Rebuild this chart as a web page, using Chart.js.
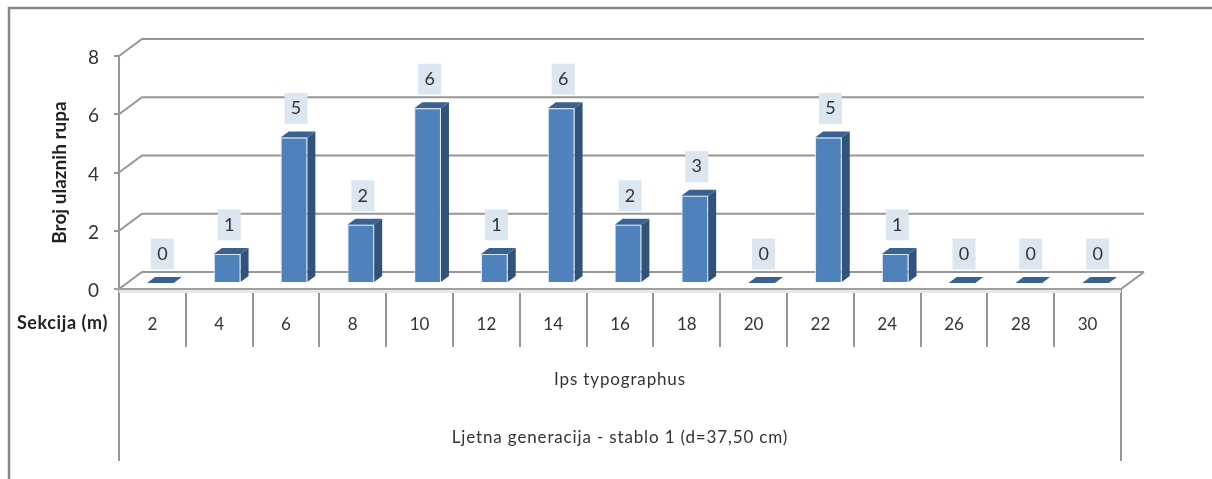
<!DOCTYPE html>
<html>
<head>
<meta charset="utf-8">
<title>Ljetna generacija - stablo 1</title>
<script src="https://cdn.jsdelivr.net/npm/chart.js@4"></script>
<style>
	html, body { margin: 0; padding: 0; background: #fff; overflow: hidden; }
	canvas { display: block; }
</style>
</head>
<body>
<canvas id="barChart" width="1212" height="479"></canvas>
<script>
const sections = ['2', '4', '6', '8', '10', '12', '14', '16', '18', '20', '22', '24', '26', '28', '30'];
const holes = [0, 1, 5, 2, 6, 1, 6, 2, 3, 0, 5, 1, 0, 0, 0];
const yTicks = [0, 2, 4, 6, 8];
const sectionTitle = 'Sekcija (m)';
const speciesLabel = 'Ips typographus';
const generationLabel = 'Ljetna generacija - stablo 1 (d=37,50 cm)';

const FONT = 'Lato, "Open Sans", sans-serif';
const GRID = '#969696';

// fake 3D: wall depth and how far the bars sit in from the front edge
const wallX = 23, wallY = 17;
const barX = 8, barY = 6;

function poly(ctx, pts, color) {
	ctx.fillStyle = color;
	ctx.beginPath();
	pts.forEach((p, i) => i ? ctx.lineTo(p[0], p[1]) : ctx.moveTo(p[0], p[1]));
	ctx.closePath();
	ctx.fill();
}

function line(ctx, pts, color, width) {
	ctx.strokeStyle = color;
	ctx.lineWidth = width;
	ctx.beginPath();
	pts.forEach((p, i) => i ? ctx.lineTo(p[0], p[1]) : ctx.moveTo(p[0], p[1]));
	ctx.stroke();
}

const chart3d = {
	id: 'chart3d',
	beforeDatasetsDraw(chart) {
		const { ctx, chartArea: a, scales: { y } } = chart;
		ctx.save();

		// page frame, only top and left
		line(ctx, [[9, 479], [9, 8], [1212, 8]], '#868686', 2.5);

		// back wall grid
		yTicks.forEach(v => {
			const py = y.getPixelForValue(v);
			line(ctx, [[a.left, py], [a.left + wallX, py - wallY], [a.right + wallX, py - wallY]], GRID, 2);
		});
		const floor = y.getPixelForValue(0);
		line(ctx, [[a.right, floor], [a.right + wallX, floor - wallY]], GRID, 2);

		// long edges of the label table
		line(ctx, [[a.left, a.top], [a.left, 461]], GRID, 2);
		line(ctx, [[a.right, floor], [a.right, 461]], GRID, 2);

		// front floor edge
		ctx.fillStyle = '#e8e8e8';
		ctx.fillRect(a.left, floor + 1, a.right - a.left, 3);
		line(ctx, [[114, floor], [a.right, floor]], '#a0a0a0', 2);

		// side and top faces behind each bar
		ctx.translate(barX, -barY);
		chart.getDatasetMeta(0).data.forEach(bar => {
			const { x, y: top, base, width } = bar.getProps(['x', 'y', 'base', 'width']);
			const l = x - width / 2, r = x + width / 2;
			if (base - top > 0) {
				poly(ctx, [[r, top], [r + barX, top - barY], [r + barX, base - barY], [r, base]], '#31527a');
			}
			poly(ctx, [[l, top], [l + barX, top - barY], [r + barX, top - barY], [r, top]], '#3a6291');
		});
		// the bars themselves get drawn by the library with this shift still on
	},
	afterDatasetsDraw(chart) {
		const { ctx, chartArea: a, scales: { y } } = chart;
		ctx.restore();
		ctx.save();

		// value labels
		ctx.textAlign = 'center';
		ctx.textBaseline = 'middle';
		ctx.font = '18px ' + FONT;
		chart.getDatasetMeta(0).data.forEach((bar, i) => {
			const cx = bar.getProps(['x']).x + 10;
			const cy = y.getPixelForValue(holes[i]) - 35;
			ctx.fillStyle = '#dce6f1';
			ctx.fillRect(cx - 11.5, cy - 15.5, 23, 31);
			ctx.fillStyle = '#333';
			ctx.fillText(String(holes[i]), cx, cy);
		});

		// lower rows of the category table
		const mid = (a.left + a.right) / 2;
		ctx.font = '17px ' + FONT;
		ctx.letterSpacing = '0.85px';
		ctx.fillStyle = '#333';
		ctx.fillText(speciesLabel, mid, 380);
		ctx.fillText(generationLabel, mid, 438);

		ctx.font = 'bold 18px ' + FONT;
		ctx.letterSpacing = '0.6px';
		ctx.fillStyle = '#222';
		ctx.textAlign = 'right';
		ctx.fillText(sectionTitle, 108, 323);
		ctx.restore();
	}
};

const barCtx = document.getElementById('barChart').getContext('2d');

new Chart(barCtx, {
	type: 'bar',
	plugins: [chart3d],
	data: {
		labels: sections,
		datasets: [{
			label: 'Broj ulaznih rupa',
			data: holes,
			backgroundColor: '#4f81bd',
			borderColor: '#dce6f1',
			borderWidth: 1,
			barPercentage: 1,
			categoryPercentage: 0.4,
			clip: false
		}]
	},
	options: {
		responsive: false,
		animation: false,
		layout: { padding: { left: 0, top: 56, right: 91, bottom: 0 } },
		plugins: { legend: { display: false }, tooltip: { enabled: false } },
		scales: {
			x: {
				offset: true,
				afterFit(scale) { scale.height = 190; },
				border: { display: false },
				grid: { drawOnChartArea: false, drawTicks: true, tickLength: 58, color: GRID, lineWidth: 2 },
				ticks: {
					autoSkip: false,
					maxRotation: 0,
					padding: -33,
					color: '#333',
					font: { family: FONT, size: 17 }
				}
			},
			y: {
				min: 0,
				max: 8,
				afterFit(scale) { scale.width = 119; },
				afterBuildTicks(scale) { scale.ticks = yTicks.map(value => ({ value })); },
				border: { display: false },
				grid: { drawOnChartArea: false, tickLength: 5, color: GRID, lineWidth: 2 },
				ticks: {
					padding: 15,
					labelOffset: 2,
					color: '#333',
					font: { family: FONT, size: 19 }
				},
				title: {
					display: true,
					text: 'Broj ulaznih rupa',
					color: '#222',
					padding: { top: 48, bottom: 0 },
					font: { family: FONT, size: 19, weight: 'bold' }
				}
			}
		}
	}
});
</script>
</body>
</html>
